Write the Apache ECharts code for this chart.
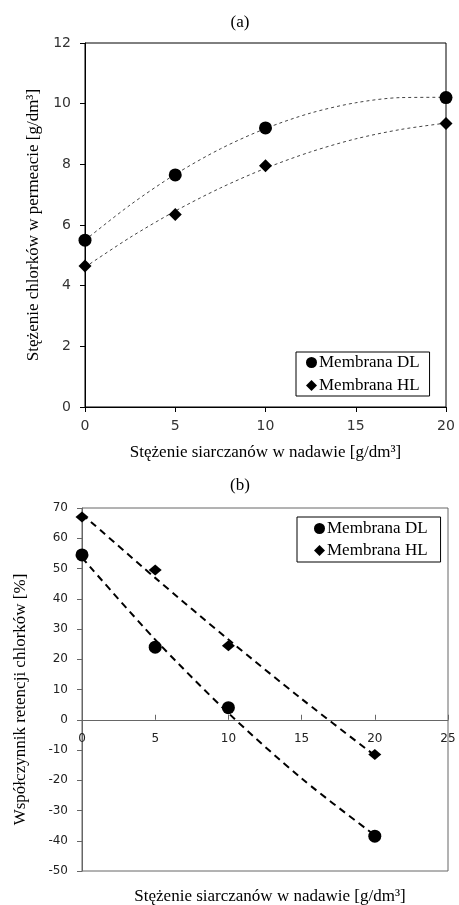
<!DOCTYPE html>
<html>
<head>
<meta charset="utf-8">
<script src="https://cdn.jsdelivr.net/npm/echarts@6/dist/echarts.min.js"></script>
<style>
  html, body { margin: 0; padding: 0; background: #fff; }
  #chart { width: 459px; height: 905px; }
</style>
</head>
<body>
<div id="chart"></div>
<script>
// (a) stezenie chlorkow w permeacie
var xA = [0, 5, 10, 20];
var dlA = [5.5, 7.65, 9.2, 10.2];
var hlA = [4.65, 6.35, 7.95, 9.35];
// linie trendu (a)
var xTrendA = [0, 2.5, 5, 7.5, 10, 12.5, 15, 17.5, 20];
var dlTrendA = [5.5, 6.66, 7.67, 8.51, 9.18, 9.69, 10.03, 10.2, 10.21];
var hlTrendA = [4.61, 5.59, 6.46, 7.22, 7.87, 8.41, 8.84, 9.15, 9.36];

// (b) wspolczynnik retencji
var xB = [0, 5, 10, 20];
var dlB = [54.5, 24, 4, -38.5];
var hlB = [67, 49.5, 24.5, -11.5];
// linie trendu (b)
var xTrendB = [0, 5, 10, 15, 20];
var dlTrendB = [53.6, 26.5, 2.2, -19.4, -38.2];
var hlTrendB = [68.0, 46.9, 26.5, 6.9, -11.8];

var serif = 'Liberation Serif';
var sans = 'DejaVu Sans';

function pairs(xs, ys) {
  return xs.map(function (x, i) { return [x, ys[i]]; });
}

var chart = echarts.init(document.getElementById('chart'));

var legendItems = [{ name: 'Membrana DL', icon: 'circle' }, { name: 'Membrana HL', icon: 'diamond' }];

// os x wykresu (b) przecina os y w zerze: przesuniecie od dolu siatki
var gridB = { top: 508, bottom: 34, height: 905 - 508 - 34 };
var zeroOffsetB = -gridB.height * (0 - (-50)) / (70 - (-50));

var option = {
  animation: false,
  title: [
    { text: '(a)', left: 235, top: 9, textAlign: 'center',
      textStyle: { fontFamily: serif, fontSize: 17, fontWeight: 'normal', color: '#000' } },
    { text: '(b)', left: 235, top: 472, textAlign: 'center',
      textStyle: { fontFamily: serif, fontSize: 17, fontWeight: 'normal', color: '#000' } }
  ],
  legend: [
    {
      orient: 'vertical', left: 296, top: 352,
      data: legendItems,
      borderColor: '#000', borderWidth: 1, borderRadius: 0,
      padding: [2, 10, 2, 10], itemGap: 6, itemWidth: 11, itemHeight: 11,
      textStyle: { fontFamily: serif, fontSize: 17, color: '#000', padding: [0, 0, 0, -3], lineHeight: 15 }
    },
    {
      orient: 'vertical', left: 297, top: 517,
      data: legendItems,
      borderColor: '#000', borderWidth: 1, borderRadius: 0,
      padding: [3, 13, 3, 17], itemGap: 5, itemWidth: 11, itemHeight: 11,
      textStyle: { fontFamily: serif, fontSize: 17, color: '#000', padding: [0, 0, 0, -3], lineHeight: 15 }
    }
  ],
  grid: [
    { left: 85, right: 13, top: 43, bottom: 498, show: true, borderColor: '#000', borderWidth: 1,
      outerBoundsMode: 'none', containLabel: false },
    { left: 82, right: 11, top: gridB.top, bottom: gridB.bottom, show: true, borderColor: '#666', borderWidth: 1,
      outerBoundsMode: 'none', containLabel: false }
  ],
  xAxis: [
    {
      gridIndex: 0, type: 'value', min: 0, max: 20, interval: 5,
      name: 'Stężenie siarczanów w nadawie [g/dm³]', nameLocation: 'middle', nameGap: 37,
      nameTextStyle: { fontFamily: serif, fontSize: 17, color: '#000' },
      axisLine: { lineStyle: { color: '#000' } },
      axisTick: { length: 5, lineStyle: { color: '#000' } },
      axisLabel: { fontFamily: sans, fontSize: 14, color: '#333', margin: 12 },
      splitLine: { show: false }
    },
    {
      gridIndex: 1, type: 'value', min: 0, max: 25, interval: 5,
      position: 'bottom', offset: zeroOffsetB,
      name: 'Stężenie siarczanów w nadawie [g/dm³]', nameLocation: 'middle', nameGap: 168,
      nameTextStyle: { fontFamily: serif, fontSize: 17, color: '#000', padding: [0, 0, 0, 10] },
      axisLine: { onZero: false, lineStyle: { color: '#666' } },
      axisTick: { inside: true, length: 5, lineStyle: { color: '#666' } },
      axisLabel: { fontFamily: sans, fontSize: 12, color: '#222', margin: 13 },
      splitLine: { show: false }
    }
  ],
  yAxis: [
    {
      gridIndex: 0, type: 'value', min: 0, max: 12, interval: 2,
      name: 'Stężenie chlorków w permeacie [g/dm³]', nameLocation: 'middle', nameGap: 43,
      nameTextStyle: { fontFamily: serif, fontSize: 17, color: '#000' },
      axisLine: { show: true, lineStyle: { color: '#000' } },
      axisTick: { show: true, length: 5, lineStyle: { color: '#000' } },
      axisLabel: { fontFamily: sans, fontSize: 14, color: '#333', margin: 14 },
      splitLine: { show: false }
    },
    {
      gridIndex: 1, type: 'value', min: -50, max: 70, interval: 10,
      name: 'Współczynnik retencji chlorków [%]', nameLocation: 'middle', nameGap: 53,
      nameTextStyle: { fontFamily: serif, fontSize: 17, color: '#000', padding: [0, 0, 0, -20] },
      axisLine: { show: true, onZero: false, lineStyle: { color: '#666' } },
      axisTick: { show: true, length: 5, lineStyle: { color: '#666' } },
      axisLabel: { fontFamily: sans, fontSize: 12, color: '#222', margin: 14 },
      splitLine: { show: false }
    }
  ],
  series: [
    { name: 'Membrana DL', type: 'scatter', xAxisIndex: 0, yAxisIndex: 0, symbol: 'circle', symbolSize: 13,
      itemStyle: { color: '#000', opacity: 1 }, data: pairs(xA, dlA), z: 5 },
    { name: 'Membrana HL', type: 'scatter', xAxisIndex: 0, yAxisIndex: 0, symbol: 'diamond', symbolSize: 13,
      itemStyle: { color: '#000', opacity: 1 }, data: pairs(xA, hlA), z: 5 },
    { name: 'trendDLa', type: 'line', xAxisIndex: 0, yAxisIndex: 0, smooth: 0.3, showSymbol: false,
      lineStyle: { color: '#444', width: 1, type: [3, 3] }, data: pairs(xTrendA, dlTrendA) },
    { name: 'trendHLa', type: 'line', xAxisIndex: 0, yAxisIndex: 0, smooth: 0.3, showSymbol: false,
      lineStyle: { color: '#444', width: 1, type: [3, 3] }, data: pairs(xTrendA, hlTrendA) },

    { name: 'Membrana DL', type: 'scatter', xAxisIndex: 1, yAxisIndex: 1, symbol: 'circle', symbolSize: 13,
      itemStyle: { color: '#000', opacity: 1 }, data: pairs(xB, dlB), z: 5 },
    { name: 'Membrana HL', type: 'scatter', xAxisIndex: 1, yAxisIndex: 1, symbol: 'diamond', symbolSize: [13, 11],
      itemStyle: { color: '#000', opacity: 1 }, data: pairs(xB, hlB), z: 5 },
    { name: 'trendDLb', type: 'line', xAxisIndex: 1, yAxisIndex: 1, smooth: 0.3, showSymbol: false,
      lineStyle: { color: '#000', width: 2, type: [7, 5] }, data: pairs(xTrendB, dlTrendB) },
    { name: 'trendHLb', type: 'line', xAxisIndex: 1, yAxisIndex: 1, smooth: 0.3, showSymbol: false,
      lineStyle: { color: '#000', width: 2, type: [7, 5] }, data: pairs(xTrendB, hlTrendB) }
  ]
};

chart.setOption(option);
</script>
</body>
</html>
